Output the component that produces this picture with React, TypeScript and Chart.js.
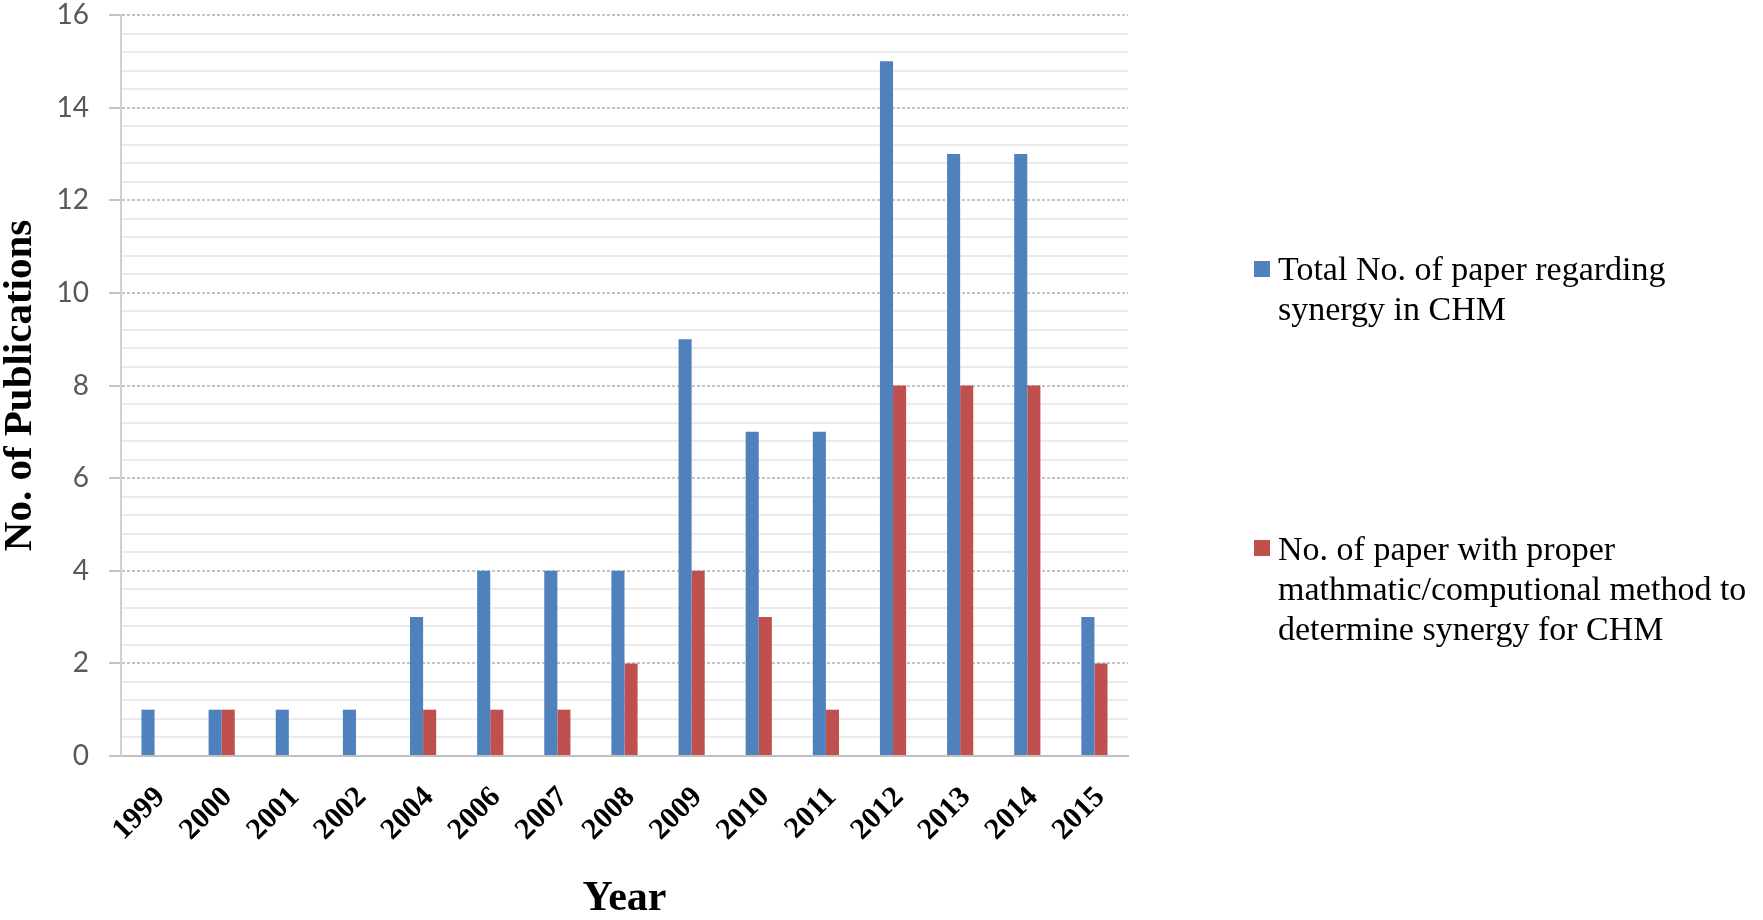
import React, { useEffect, useRef } from "react";
import { Chart, registerables } from "chart.js";

Chart.register(...registerables);

const years = ["1999", "2000", "2001", "2002", "2004", "2006", "2007", "2008", "2009", "2010", "2011", "2012", "2013", "2014", "2015"];
const totalPapers = [1, 1, 1, 1, 3, 4, 4, 4, 9, 7, 7, 15, 13, 13, 3];
const properMethodPapers = [0, 1, 0, 0, 1, 1, 1, 2, 4, 3, 1, 8, 8, 8, 2];
const totalLabelLines = ["Total No. of paper regarding", "synergy in CHM"];
const properLabelLines = ["No. of paper with proper", "mathmatic/computional method to", "determine synergy for CHM"];
const yMin = 0;
const yMax = 16;
const yMinorStep = 0.4;
const yMajorStep = 2;

const BLUE = "#4F81BD";
const RED = "#C0504D";

const isMajor = (v: number) => Math.abs(v / yMajorStep - Math.round(v / yMajorStep)) < 1e-6;

const legendLayout = [
  { squareY: 269, baseline: 280 },
  { squareY: 548, baseline: 560 },
];

const sideLegend = {
  id: "sideLegend",
  afterDraw(chart: any) {
    const ctx = chart.ctx;
    ctx.save();
    ctx.font = "34px 'Liberation Serif'";
    ctx.textBaseline = "alphabetic";
    ctx.textAlign = "left";
    chart.data.datasets.forEach((ds: any, i: number) => {
      const pos = legendLayout[i];
      ctx.fillStyle = ds.backgroundColor;
      ctx.fillRect(1254, pos.squareY - 8, 16, 16);
      ctx.fillStyle = "#000";
      (ds.legendLines as string[]).forEach((line, j) => {
        ctx.fillText(line, 1278, pos.baseline + j * 40);
      });
    });
    ctx.restore();
  },
};

export default function App() {
  const ref = useRef<HTMLCanvasElement>(null);

  useEffect(() => {
    document.body.style.margin = "0";
    const chart = new Chart(ref.current!, {
      type: "bar",
      data: {
        labels: years,
        datasets: [
          {
            label: totalLabelLines.join(" "),
            legendLines: totalLabelLines,
            data: totalPapers,
            backgroundColor: BLUE,
            categoryPercentage: 0.39,
            barPercentage: 1.0,
          } as any,
          {
            label: properLabelLines.join(" "),
            legendLines: properLabelLines,
            data: properMethodPapers,
            backgroundColor: RED,
            categoryPercentage: 0.39,
            barPercentage: 1.0,
          } as any,
        ],
      },
      options: {
        animation: false,
        responsive: true,
        maintainAspectRatio: false,
        layout: { padding: { left: 0, right: 635, top: 15, bottom: 0 } },
        plugins: {
          legend: { display: false },
          tooltip: { enabled: false },
        },
        scales: {
          x: {
            grid: { display: false },
            border: { display: true, color: "#bfbfbf", width: 2 },
            ticks: {
              color: "#000",
              font: { family: "'Liberation Serif'", size: 30, weight: "bold" },
              maxRotation: 45,
              minRotation: 45,
              padding: 16,
              labelOffset: 6,
              autoSkip: false,
            },
            title: {
              display: true,
              text: "Year",
              color: "#000",
              font: { family: "'Liberation Serif'", size: 42, weight: "bold", lineHeight: 1 },
              padding: { top: 0, bottom: 0 },
            },
            afterFit: (scale: any) => {
              scale.height = 164;
              scale.paddingLeft = 0;
              scale.paddingRight = 0;
            },
          },
          y: {
            min: yMin,
            max: yMax,
            ticks: {
              stepSize: yMinorStep,
              color: "#595959",
              font: { family: "Lato", size: 28, lineHeight: 1.1 },
              padding: 20,
              callback: (v: any) => (isMajor(Number(v)) ? String(Math.round(Number(v))) : ""),
              autoSkip: false,
            },
            grid: {
              color: (c: any) => (isMajor(c.tick?.value ?? 0) ? "#c4c4c4" : "#ebebeb"),
              lineWidth: 2,
              tickLength: 12,
              tickColor: (c: any) => (isMajor(c.tick?.value ?? 0) ? "#c4c4c4" : "rgba(0,0,0,0)"),
            },
            border: {
              display: true,
              color: "#d0d0d0",
              width: 2,
              dash: (c: any) => (isMajor(c.tick?.value ?? 0) ? [3, 2] : []),
            } as any,
            title: {
              display: true,
              text: "No. of Publications",
              color: "#000",
              font: { family: "'Liberation Serif'", size: 41, weight: "bold", lineHeight: 1 },
              padding: { top: 0, bottom: 0 },
            },
            afterFit: (scale: any) => {
              scale.width = 121;
              scale.paddingTop = 0;
              scale.paddingBottom = 0;
            },
          },
        },
      },
      plugins: [sideLegend],
    });
    return () => chart.destroy();
  }, []);

  return (
    <div style={{ width: "1763px", height: "920px", position: "relative", background: "#fff" }}>
      <canvas ref={ref} />
    </div>
  );
}
